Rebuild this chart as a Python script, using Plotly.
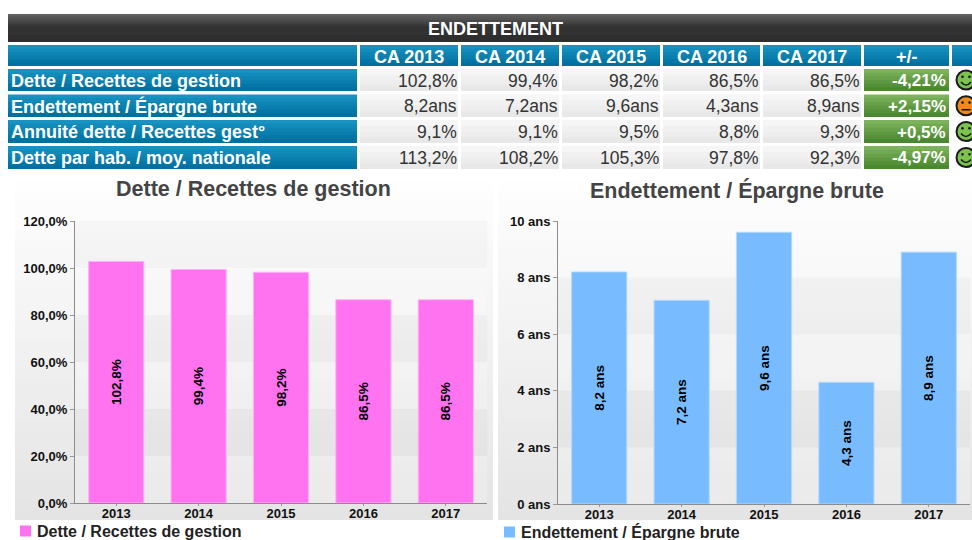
import plotly.graph_objects as go

W, H = 972, 540
FONT = "Liberation Sans"

years = ["2013", "2014", "2015", "2016", "2017"]
ratio_name = "Dette / Recettes de gestion"
ratio_values = [102.8, 99.4, 98.2, 86.5, 86.5]
ratio_text = ["102,8%", "99,4%", "98,2%", "86,5%", "86,5%"]
ratio_ticks = [0, 20, 40, 60, 80, 100, 120]
ratio_ticktext = ["0,0%", "20,0%", "40,0%", "60,0%", "80,0%", "100,0%", "120,0%"]

years_name = "Endettement / Épargne brute"
years_values = [8.2, 7.2, 9.6, 4.3, 8.9]
years_text = ["8,2 ans", "7,2 ans", "9,6 ans", "4,3 ans", "8,9 ans"]
years_ticks = [0, 2, 4, 6, 8, 10]
years_ticktext = ["0 ans", "2 ans", "4 ans", "6 ans", "8 ans", "10 ans"]

table_title = "ENDETTEMENT"
table_headers = ["CA 2013", "CA 2014", "CA 2015", "CA 2016", "CA 2017", "+/-"]
row_labels = [ratio_name, years_name, "Annuité dette / Recettes gest°",
              "Dette par hab. / moy. nationale"]
row_cells = [
    ["102,8%", "99,4%", "98,2%", "86,5%", "86,5%"],
    ["8,2ans", "7,2ans", "9,6ans", "4,3ans", "8,9ans"],
    ["9,1%", "9,1%", "9,5%", "8,8%", "9,3%"],
    ["113,2%", "108,2%", "105,3%", "97,8%", "92,3%"],
]
row_delta = ["-4,21%", "+2,15%", "+0,5%", "-4,97%"]
row_mood = ["good", "neutral", "good", "good"]

shapes, annotations = [], []


def X(px):
    return px / W


def Y(py):
    return 1 - py / H


def lerp(c1, c2, t):
    return "rgb(%d,%d,%d)" % tuple(round(a + (b - a) * t) for a, b in zip(c1, c2))


def grad(x0, y0, x1, y1, top, bottom, n=6, layer="below"):
    # strips overlap the next one so that no seams show
    for i in range(n):
        ya = y0 + (y1 - y0) * i / n
        yb = y1 if i == n - 1 else y0 + (y1 - y0) * (i + 1) / n + 1
        shapes.append(dict(type="rect", xref="paper", yref="paper", layer=layer,
                           x0=X(x0), x1=X(x1), y0=Y(ya), y1=Y(yb), line_width=0,
                           fillcolor=lerp(top, bottom, i / max(n - 1, 1))))


def label(px, py, text, size=17, color="#222", bold=False, anchor="center"):
    annotations.append(dict(xref="paper", yref="paper", x=X(px), y=Y(py),
                            text=f"<b>{text}</b>" if bold else text,
                            showarrow=False, xanchor=anchor, yanchor="middle",
                            font=dict(family=FONT, size=size, color=color)))


def smiley(cx, cy, mood):
    fill = "#7cc24e" if mood == "good" else "#f08a1d"
    r = 9.5
    shapes.append(dict(type="circle", xref="paper", yref="paper", layer="above",
                       x0=X(cx - r), x1=X(cx + r), y0=Y(cy - r), y1=Y(cy + r),
                       fillcolor=fill, line=dict(color="#1a1a1a", width=2)))
    for dx in (-3.5, 3.5):
        shapes.append(dict(type="circle", xref="paper", yref="paper", layer="above",
                           x0=X(cx + dx - 1.3), x1=X(cx + dx + 1.3),
                           y0=Y(cy - 4.5), y1=Y(cy - 1.8),
                           fillcolor="#1a1a1a", line_width=0))
    if mood == "good":
        path = f"M {X(cx-5)} {Y(cy+2)} Q {X(cx)} {Y(cy+8)} {X(cx+5)} {Y(cy+2)}"
    else:
        path = f"M {X(cx-4.5)} {Y(cy+4)} L {X(cx+4.5)} {Y(cy+4)}"
    shapes.append(dict(type="path", xref="paper", yref="paper", layer="above", path=path,
                       line=dict(color="#1a1a1a", width=1.6)))


# --- table ---------------------------------------------------------------
BLUE_T, BLUE_B = (24, 146, 192), (0, 112, 160)
GREY_T, GREY_B = (246, 246, 246), (232, 232, 232)
GREEN_T, GREEN_B = (124, 178, 92), (74, 136, 48)

grad(8, 14, 972, 28, (96, 96, 96), (50, 50, 50), n=7)
grad(8, 28, 972, 42, (50, 50, 50), (46, 46, 46), n=2)
label(495, 28.5, table_title, size=18, color="white", bold=True)

col_edges = [(360, 458), (461, 559), (562, 660), (663, 760), (763, 861), (864, 949)]
row_edges = [(69, 91), (94.5, 117), (120, 143), (146, 169)]

grad(8, 45, 357, 66, BLUE_T, BLUE_B)
grad(952, 45, 972, 66, BLUE_T, BLUE_B)
for (x0, x1), text in zip(col_edges, table_headers):
    grad(x0, 45, x1, 66, BLUE_T, BLUE_B)
    label((x0 + x1) / 2, 56.5, text, size=18, color="white", bold=True)

for r, (y0, y1) in enumerate(row_edges):
    ym = (y0 + y1) / 2
    grad(8, y0, 357, y1, BLUE_T, BLUE_B)
    label(9, ym + 0.5, row_labels[r], size=18, color="white", bold=True, anchor="left")
    for c, text in enumerate(row_cells[r]):
        x0, x1 = col_edges[c]
        grad(x0, y0, x1, y1, GREY_T, GREY_B, n=4)
        label(x1 + 0.5, ym + 0.5, text, size=17.5, color="#333", anchor="right")
    x0, x1 = col_edges[5]
    grad(x0, y0, x1, y1, GREEN_T, GREEN_B)
    label(x1 - 1, ym + 0.5, row_delta[r], size=17, color="white", bold=True, anchor="right")
    smiley(966, ym, row_mood[r])

# --- chart panels ---------------------------------------------------------
PANEL_T, PANEL_B = (254, 254, 254), (228, 228, 228)
grad(15, 180, 493, 520, PANEL_T, PANEL_B, n=34)
grad(498, 180, 972, 520, PANEL_T, PANEL_B, n=34)
label(253, 189, ratio_name, size=21.5, color="#444", bold=True)
label(737, 191, years_name, size=21.5, color="#444", bold=True)


def bands(axis_x, axis_y, ticks):
    for i in range(len(ticks) - 1):
        dark = i % 2 == 1
        shapes.append(dict(type="rect", xref=f"{axis_x} domain", yref=axis_y, layer="below",
                           x0=0, x1=1, y0=ticks[i], y1=ticks[i + 1], line_width=0,
                           fillcolor="rgba(0,0,0,0.018)" if dark else "rgba(255,255,255,0.2)"))


bands("x", "y", ratio_ticks)
bands("x2", "y2", years_ticks)


def legend_item(px, py, text, color):
    shapes.append(dict(type="rect", xref="paper", yref="paper", layer="below",
                       x0=X(px), x1=X(px + 11), y0=Y(py - 5.5), y1=Y(py + 5.5),
                       fillcolor=color, line_width=0))
    label(px + 15, py, text, size=16, color="#222", bold=True, anchor="left")


RATIO_COLOR, YEARS_COLOR = "#ff73f0", "#78bcff"
legend_item(20, 531, ratio_name, RATIO_COLOR)
legend_item(504, 532, years_name, YEARS_COLOR)

fig = go.Figure()
fig.add_trace(go.Bar(
    x=years, y=ratio_values, name=ratio_name, width=0.67, xaxis="x", yaxis="y",
    marker=dict(color=RATIO_COLOR, line=dict(color="#ffb4f6", width=1)),
    text=ratio_text, textposition="inside", insidetextanchor="middle", textangle=-90,
    textfont=dict(family=FONT, size=13.5, color="black", weight="bold"),
    cliponaxis=False))
fig.add_trace(go.Bar(
    x=years, y=years_values, name=years_name, width=0.67, xaxis="x2", yaxis="y2",
    marker=dict(color=YEARS_COLOR, line=dict(color="#b4d9ff", width=1)),
    text=years_text, textposition="inside", insidetextanchor="middle", textangle=-90,
    textfont=dict(family=FONT, size=13.5, color="black", weight="bold"),
    cliponaxis=False))

tick_font = dict(family=FONT, size=13, color="#111", weight="bold")
common_x = dict(type="category", showgrid=False, showline=True, linecolor="#8c8c8c",
                linewidth=1, ticks="outside", ticklen=2, tickcolor="#999",
                tickfont=tick_font, range=[-0.5, 4.5], fixedrange=True, automargin=False,
                ticklabelstandoff=-4)
common_y = dict(showgrid=False, zeroline=False, showline=True, linecolor="#8c8c8c",
                linewidth=1, ticks="outside", ticklen=4, tickcolor="#999",
                tickfont=tick_font, fixedrange=True, automargin=False,
                minor=dict(ticks="outside", ticklen=2, tickcolor="#e8c8c8", nticks=2))

fig.update_layout(
    width=W, height=H, margin=dict(l=0, r=0, t=0, b=0, autoexpand=False),
    paper_bgcolor="white", plot_bgcolor="rgba(0,0,0,0)",
    font=dict(family=FONT),
    barmode="group", showlegend=False,
    xaxis=dict(common_x, domain=[X(75), X(487)], anchor="y"),
    yaxis=dict(common_y, domain=[Y(503), Y(221)], anchor="x", range=[0, 120],
               tickvals=ratio_ticks, ticktext=ratio_ticktext),
    xaxis2=dict(common_x, domain=[X(558), X(970)], anchor="y2"),
    yaxis2=dict(common_y, domain=[Y(504), Y(221)], anchor="x2", range=[0, 10],
                tickvals=years_ticks, ticktext=years_ticktext),
    shapes=shapes, annotations=annotations,
)
# Remove the page's default margin so the 972x540 figure fills the window exactly.
fig.write_html("out.html", config=dict(displayModeBar=False),
               post_script="document.body.style.margin='0';"
                           "document.documentElement.style.overflow='hidden';")
